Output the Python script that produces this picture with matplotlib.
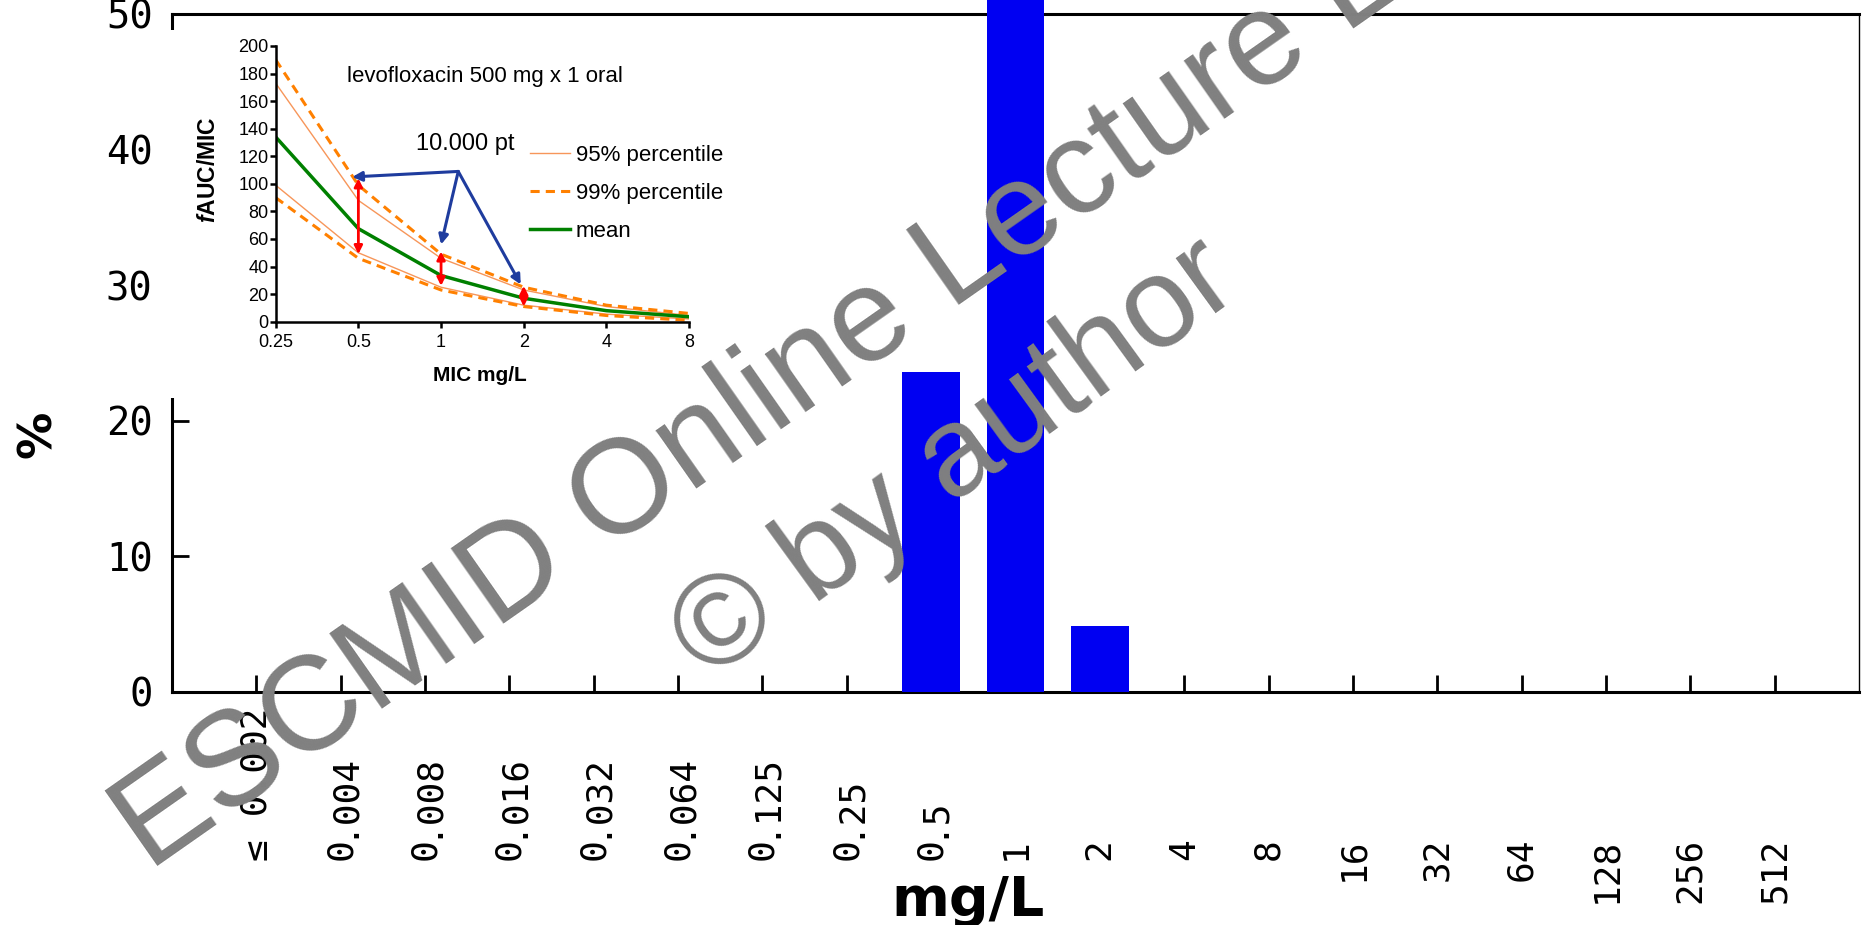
import matplotlib
matplotlib.use("Agg")
import matplotlib.pyplot as plt
import matplotlib.transforms as mtransforms
from matplotlib.patches import Rectangle

plt.rcParams['font.family'] = ['Liberation Sans', 'DejaVu Sans']
plt.rcParams['mathtext.fontset'] = 'custom'
plt.rcParams['mathtext.bfit'] = 'Liberation Sans:italic:bold'

# main chart: MIC distribution (%)
mic_labels = ["≤ 0.002", "0.004", "0.008", "0.016", "0.032", "0.064", "0.125",
              "0.25", "0.5", "1", "2", "4", "8", "16", "32", "64", "128", "256", "512"]
pct = [0, 0, 0, 0, 0, 0, 0, 0, 23.6, 71.5, 4.9, 0, 0, 0, 0, 0, 0, 0, 0]

# inset: fAUC/MIC vs MIC
mic = [0.25, 0.5, 1, 2, 4, 8]
mean = [134, 67.5, 33.5, 17, 8, 3.6]
p95_hi = [173, 88, 46, 23, 11, 4.5]
p95_lo = [99, 50, 25, 12, 5.5, 2]
p99_hi = [190, 99, 49, 25, 12, 6]
p99_lo = [90, 46, 23, 11, 4.5, 1]
spread_x = [0.5, 1, 2]
spread_hi = [104, 51, 26]
spread_lo = [49, 26, 11]
pt_targets = [(0.475, 105), (1.0, 56), (1.95, 27)]
pt_source = (1.155, 109)

fig = plt.figure(figsize=(18.64, 9.25), dpi=100)
ax = fig.add_axes([0.0923, 0.2519, 0.9050, 0.7330])

x = list(range(len(mic_labels)))
ax.bar(x, pct, width=0.68, color='#0000F2', clip_on=False, zorder=3)
ax.set_xlim(-1, 19)
ax.set_ylim(0, 50)
ax.set_yticks([0, 10, 20, 30, 40, 50])
ax.set_yticklabels(['0', '10', '20', '30', '40', '50'], family='DejaVu Sans Mono', fontsize=28)
ax.set_xticks(x)
ax.set_xticklabels([])
ax.tick_params(axis='y', direction='in', length=12, width=2, pad=14, right=False)
ax.tick_params(axis='x', direction='in', length=12, width=2)
for s in ['left', 'top', 'bottom']:
    ax.spines[s].set_linewidth(2.2)
ax.spines['right'].set_linewidth(1.0)

# decimal-aligned rotated tick labels
tr = ax.get_xaxis_transform() + mtransforms.ScaledTranslation(0, -1.46, fig.dpi_scale_trans)
for xi, lab in zip(x, mic_labels):
    if lab.startswith("≤"):
        lo, hi = "≤", lab[1:]
    elif "." in lab:
        i = lab.index(".")
        lo, hi = lab[:i], lab[i:]
    else:
        lo, hi = lab, ""
    ax.text(xi, 0, lo, transform=tr, rotation=90, rotation_mode='anchor',
            ha='right', va='center', family='DejaVu Sans Mono', fontsize=26)
    if hi:
        ax.text(xi, 0, hi, transform=tr, rotation=90, rotation_mode='anchor',
                ha='left', va='center', family='DejaVu Sans Mono', fontsize=26)

ax.set_xlabel('mg/L', family='DejaVu Sans', fontsize=40, fontweight='bold')
ax.xaxis.set_label_coords(0.472, -0.268)
ax.set_ylabel('%', family='DejaVu Sans', fontsize=34, fontweight='bold')
ax.yaxis.set_label_coords(-0.066, 0.38)

# white box behind the inset
fig.add_artist(Rectangle((160 / 1864, 1 - 398 / 925), 600 / 1864, 368 / 925,
                         transform=fig.transFigure, facecolor='white',
                         edgecolor='none', zorder=1))

ax_in = fig.add_axes([0.1479, 0.6522, 0.2218, 0.2981], zorder=2)
ax_in.set_xscale('log', base=2)
ax_in.plot(mic, p95_hi, color='#F7965A', lw=1.0, label='95% percentile')
ax_in.plot(mic, p95_lo, color='#F7965A', lw=1.0)
ax_in.plot(mic, p99_hi, color='#FF8000', lw=2.2, ls=(0, (3, 2)), label='99% percentile')
ax_in.plot(mic, p99_lo, color='#FF8000', lw=2.2, ls=(0, (3, 2)))
ax_in.plot(mic, mean, color='#008000', lw=2.5, label='mean')
ax_in.set_xlim(0.25, 8)
ax_in.set_ylim(0, 200)
ax_in.set_xticks(mic)
ax_in.set_xticklabels(['0.25', '0.5', '1', '2', '4', '8'])
ax_in.xaxis.set_minor_locator(matplotlib.ticker.NullLocator())
ax_in.set_yticks(range(0, 201, 20))
ax_in.tick_params(labelsize=13, length=4, width=1.8)
ax_in.tick_params(axis='y', pad=1)
ax_in.tick_params(axis='x', pad=5)
ax_in.spines['top'].set_visible(False)
ax_in.spines['right'].set_visible(False)
ax_in.spines['left'].set_linewidth(1.8)
ax_in.spines['bottom'].set_linewidth(1.8)
ax_in.set_xlabel('MIC mg/L', fontsize=15, fontweight='bold')
ax_in.xaxis.set_label_coords(0.495, -0.16)
ax_in.set_ylabel(r'$\mathbfit{f}$AUC/MIC', fontsize=16.5, fontweight='bold')
ax_in.yaxis.set_label_coords(-0.135, 0.55)

for sx, hi, lo in zip(spread_x, spread_hi, spread_lo):
    ax_in.annotate('', xy=(sx, lo), xytext=(sx, hi),
                   arrowprops=dict(arrowstyle='<|-|>', color='#FF0000', lw=2,
                                   mutation_scale=12, shrinkA=0, shrinkB=0))
for tx, ty in pt_targets:
    ax_in.annotate('', xy=(tx, ty), xytext=pt_source,
                   arrowprops=dict(arrowstyle='-|>', color='#1F3C9E', lw=2.2,
                                   mutation_scale=14, shrinkA=0, shrinkB=0))
ax_in.text(1.22, 129, '10.000 pt', fontsize=17, ha='center', va='center')
ax_in.text(0.454, 174, 'levofloxacin 500 mg x 1 oral', fontsize=16, ha='left', va='baseline')
ax_in.legend(loc='upper left', bbox_to_anchor=(0.616, 0.64), frameon=False, fontsize=16,
             handlelength=1.8, handletextpad=0.25, labelspacing=0.75, borderpad=0,
             borderaxespad=0)

# watermark
fig.text(149 / 1864, 1 - 872 / 925, 'ESCMID Online Lecture Library', rotation=35,
         rotation_mode='anchor', ha='left', va='baseline', fontsize=96,
         color='#808080', zorder=20)
fig.text(708 / 1864, 1 - 682 / 925, '© by author', rotation=36,
         rotation_mode='anchor', ha='left', va='baseline', fontsize=92,
         color='#808080', zorder=20)

fig.savefig('out.png', dpi=100)
